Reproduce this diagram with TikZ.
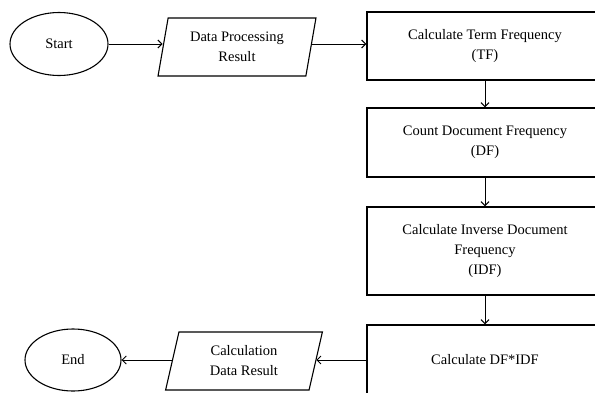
\documentclass[tikz,border=0pt]{standalone}
\usepackage{fontspec}
\setmainfont{Liberation Serif}
\usetikzlibrary{arrows.meta,shapes.geometric}

\begin{document}
\begin{tikzpicture}[x=1pt,y=-1pt,
		every node/.style={font=\fontsize{14.5}{20}\selectfont},
		schritt/.style={draw,line width=1.4pt,minimum width=236pt,align=center,inner sep=0pt},
		daten/.style={draw,line width=1.1pt,trapezium,trapezium left angle=77,trapezium right angle=103,trapezium stretches=true,minimum width=158pt,minimum height=58pt,align=center,inner sep=0pt},
		terminal/.style={draw,line width=1.1pt,ellipse,inner sep=0pt},
		pfeil/.style={-{Straight Barb[length=4pt,width=8pt,line width=1pt]},line width=1pt}]
		\useasboundingbox (0,0) rectangle (595,392);
		%obere Reihe
		\node[terminal,minimum width=98pt,minimum height=63pt] (start) at (59,44) {Start};
		\node[daten] (dp) at (237,47) {Data Processing\\Result};
		\node[schritt,minimum height=68pt] (tf) at (485,46) {Calculate Term Frequency\\(TF)};
		%rechte Spalte
		\node[schritt,minimum height=69pt] (df) at (485,142.5) {Count Document Frequency\\(DF)};
		\node[schritt,minimum height=88pt] (idf) at (485,251) {Calculate Inverse Document\\Frequency\\(IDF)};
		\node[schritt,minimum height=70pt] (calc) at (485,360) {Calculate DF*IDF};
		%untere Reihe
		\node[daten] (res) at (244,361) {Calculation\\Data Result};
		\node[terminal,minimum width=96pt,minimum height=62pt] (end) at (73,360) {End};
		%Pfeile
		\draw[pfeil] (start) -- (dp.west |- start);
		\draw[pfeil] (dp.east |- start) -- (tf.west |- start);
		\draw[pfeil] (tf) -- (df);
		\draw[pfeil] (df) -- (idf);
		\draw[pfeil] (idf) -- (calc);
		\draw[pfeil] (calc.west) -- (res.east |- calc.west);
		\draw[pfeil] (res.west |- end) -- (end);
	\end{tikzpicture}
\end{document}
